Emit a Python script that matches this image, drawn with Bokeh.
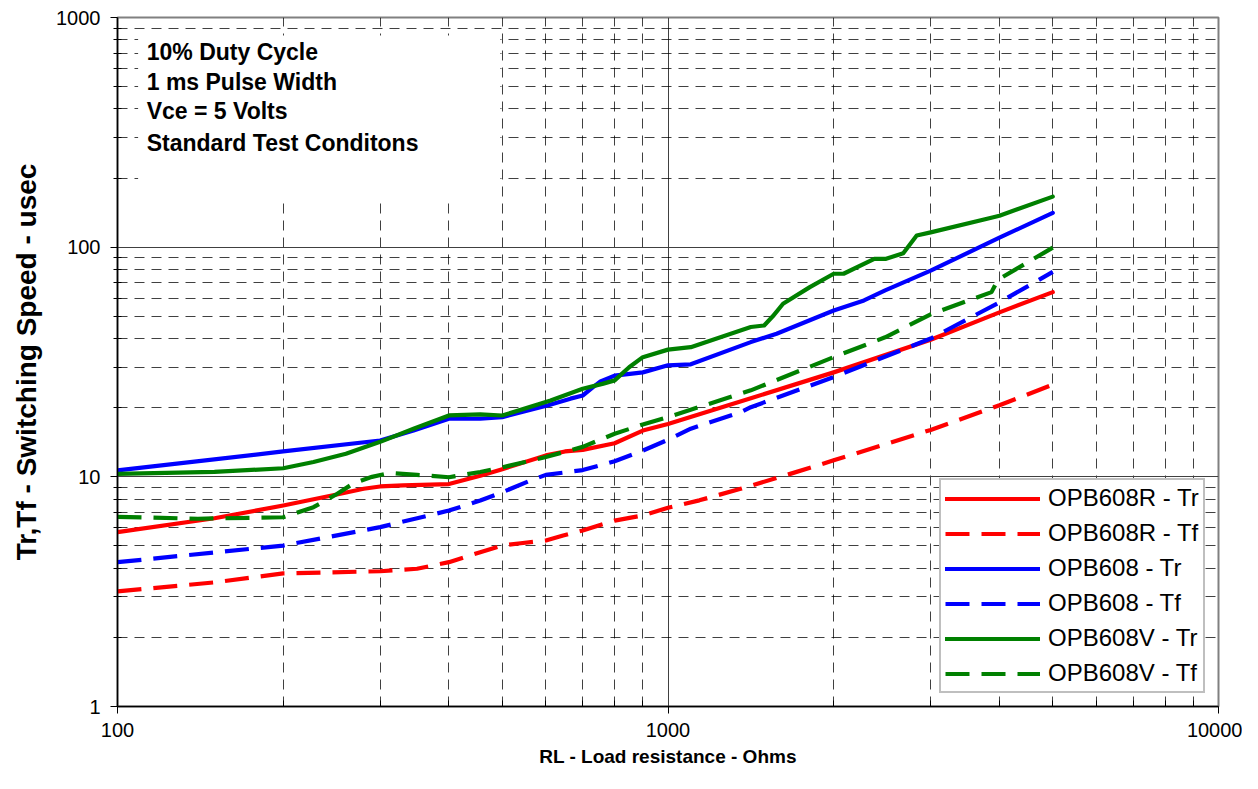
from bokeh.plotting import figure
from bokeh.models import Range1d, FixedTicker, BoxAnnotation, Label, BasicTickFormatter
from bokeh.embed import file_html
from bokeh.resources import INLINE

FONT = "Liberation Sans"

# ---- axis ticks / labels ----
x_ticks = [100, 1000, 10000]
x_tick_labels = ["100", "1000", "10000"]
y_ticks = [1, 10, 100, 1000]
y_tick_labels = ["1", "10", "100", "1000"]
x_title = "RL - Load resistance - Ohms"
y_title = "Tr,Tf - Switching Speed - usec"

notes = ["10% Duty Cycle", "1 ms Pulse Width", "Vce = 5 Volts", "Standard Test Conditons"]
notes_y = [711, 526, 390, 285]

# ---- series ----
r_tr_x = [100, 150, 200, 254, 280, 300, 330, 400, 456, 500, 600, 650, 700, 800, 900, 1000, 1414, 2000, 3000, 4000, 5000]
r_tr_y = [5.74, 6.6, 7.5, 8.44, 8.87, 9.08, 9.18, 9.3, 10.1, 10.8, 12.4, 12.9, 13.1, 14.0, 15.9, 17.0, 22.0, 28.5, 39.5, 52.0, 63.7]

r_tf_x = [100, 150, 200, 300, 350, 400, 456, 500, 540, 600, 645, 700, 800, 900, 1000, 1140, 1355, 1667, 2000, 3000, 4000, 5000]
r_tf_y = [3.17, 3.47, 3.8, 3.88, 3.98, 4.25, 4.7, 5.02, 5.14, 5.28, 5.55, 5.84, 6.45, 6.79, 7.33, 7.9, 8.87, 10.3, 11.8, 16.0, 20.5, 25.2]

b_tr_x = [100, 200, 300, 345, 400, 456, 500, 606, 665, 700, 730, 754, 800, 900, 1000, 1100, 1414, 1575, 2000, 2270, 2480, 3000, 4000, 5000]
b_tr_y = [10.66, 12.9, 14.4, 15.9, 17.9, 17.9, 18.2, 20.5, 21.9, 22.6, 24.5, 26.0, 27.6, 28.5, 30.6, 30.9, 38.6, 42.0, 53.0, 58.6, 64.8, 79.0, 110.0, 141.0]

b_tf_x = [100, 200, 300, 400, 456, 500, 563, 600, 700, 800, 900, 1000, 1100, 1355, 1414, 2000, 3000, 4000, 5000]
b_tf_y = [4.25, 5.02, 6.04, 7.13, 7.89, 8.57, 9.64, 10.2, 10.7, 11.7, 13.0, 14.5, 16.2, 19.1, 20.1, 27.2, 40.0, 57.5, 78.0]

g_tr_x = [100, 150, 200, 227, 260, 300, 345, 400, 456, 500, 612, 700, 760, 800, 850, 900, 1000, 1100, 1414, 1495, 1550, 1618, 1810, 2000, 2084, 2370, 2490, 2675, 2830, 3000, 3900, 4000, 5000]
g_tr_y = [10.3, 10.5, 10.9, 11.6, 12.6, 14.2, 16.2, 18.5, 18.7, 18.5, 21.5, 24.2, 25.4, 26.3, 30.0, 33.2, 35.8, 36.7, 44.9, 45.6, 50.0, 56.7, 67.0, 76.6, 76.6, 89.0, 89.0, 94.0, 112.4, 116.0, 135.0, 137.0, 166.0]

g_tf_x = [100, 140, 200, 227, 250, 268, 290, 313, 350, 400, 456, 500, 600, 700, 800, 900, 1000, 1414, 2000, 2480, 3000, 3870, 3950, 4000, 5000]
g_tf_y = [6.7, 6.57, 6.67, 7.38, 8.4, 9.35, 10.0, 10.4, 10.2, 9.96, 10.5, 11.0, 12.2, 13.5, 15.4, 16.9, 18.2, 23.8, 33.2, 40.5, 51.0, 63.7, 70.0, 72.8, 99.5]

series = [
    ("OPB608R - Tr", r_tr_x, r_tr_y, "#FF0000", "solid"),
    ("OPB608R - Tf", r_tf_x, r_tf_y, "#FF0000", "24 12"),
    ("OPB608 - Tr", b_tr_x, b_tr_y, "#0000FF", "solid"),
    ("OPB608 - Tf", b_tf_x, b_tf_y, "#0000FF", "24 12"),
    ("OPB608V - Tr", g_tr_x, g_tr_y, "#008000", "solid"),
    ("OPB608V - Tf", g_tf_x, g_tf_y, "#008000", "24 12"),
]

p = figure(width=1242, height=772, x_axis_type="log", y_axis_type="log",
           x_range=Range1d(100, 10000), y_range=Range1d(1, 1000),
           output_backend="svg", toolbar_location=None,
           min_border_left=117, min_border_right=24, min_border_top=17, min_border_bottom=66)
p.background_fill_color = "white"
p.border_fill_color = "white"
p.outline_line_color = "#808080"
p.outline_line_width = 2

x_minor = [d * k for d in x_ticks[:-1] for k in range(2, 10)]
y_minor = [d * k for d in y_ticks[:-1] for k in range(2, 10)]
p.xaxis.ticker = FixedTicker(ticks=x_ticks, minor_ticks=x_minor)
p.yaxis.ticker = FixedTicker(ticks=y_ticks, minor_ticks=y_minor)
p.xgrid.ticker = FixedTicker(ticks=x_ticks, minor_ticks=x_minor)
p.ygrid.ticker = FixedTicker(ticks=y_ticks, minor_ticks=y_minor)
p.xaxis.formatter = BasicTickFormatter(use_scientific=False)
p.yaxis.formatter = BasicTickFormatter(use_scientific=False)
p.xaxis.major_label_overrides = {t: s for t, s in zip(x_ticks, x_tick_labels)}
p.yaxis.major_label_overrides = {t: s for t, s in zip(y_ticks, y_tick_labels)}

for g in (p.xgrid, p.ygrid):
    g.grid_line_color = "#404040"
    g.grid_line_width = 1
    g.minor_grid_line_color = "#000000"
    g.minor_grid_line_alpha = 0.75
    g.minor_grid_line_dash = "10 7"
    g.minor_grid_line_width = 1

for ax in (p.xaxis, p.yaxis):
    ax.axis_line_color = "black"
    ax.axis_line_width = 1.5
    ax.major_tick_line_color = "black"
    ax.minor_tick_line_color = "black"
    ax.major_label_text_font = FONT
    ax.major_label_text_font_size = "20px"
    ax.major_label_text_color = "black"
    ax.axis_label_text_font = FONT
    ax.axis_label_text_font_style = "bold"
    ax.axis_label_text_color = "black"

p.xaxis.major_tick_out = 7
p.xaxis.major_tick_in = 0
p.xaxis.minor_tick_out = 0
p.xaxis.minor_tick_in = 6
p.xaxis.major_label_standoff = 9
p.xaxis.axis_label = x_title
p.xaxis.axis_label_text_font_size = "19px"
p.xaxis.axis_label_standoff = 6

p.yaxis.major_tick_out = 7
p.yaxis.major_tick_in = 0
p.yaxis.minor_tick_out = 4
p.yaxis.minor_tick_in = 4
p.yaxis.major_label_standoff = 10
p.yaxis.axis_label = y_title
p.yaxis.axis_label_text_font_size = "28px"
p.yaxis.axis_label_standoff = 11

# white note box over the grid
p.add_layout(BoxAnnotation(left=109, right=496, bottom=163, top=835,
                           fill_color="white", fill_alpha=1, line_alpha=0, level="underlay"))
for txt, ty in zip(notes, notes_y):
    p.add_layout(Label(x=113, y=ty, text=txt, text_font=FONT, text_font_size="23px",
                       text_font_style="bold", text_baseline="middle", text_color="black"))

for name, xs, ys, col, dash in series:
    p.line(xs, ys, line_color=col, line_width=4.2, line_dash=dash,
           line_cap="round" if dash == "solid" else "butt", line_join="round",
           legend_label=name)

lg = p.legend[0]
lg.location = (822, 13)
lg.margin = 0
lg.padding = 4
lg.spacing = 7
lg.glyph_width = 95
lg.glyph_height = 25
lg.label_height = 25
lg.label_standoff = 8
lg.label_text_font = FONT
lg.label_text_font_size = "24px"
lg.label_text_color = "black"
lg.border_line_color = "#808080"
lg.border_line_width = 2
lg.background_fill_color = "white"
lg.background_fill_alpha = 1

open("out.html", "w").write(file_html(p, INLINE))
